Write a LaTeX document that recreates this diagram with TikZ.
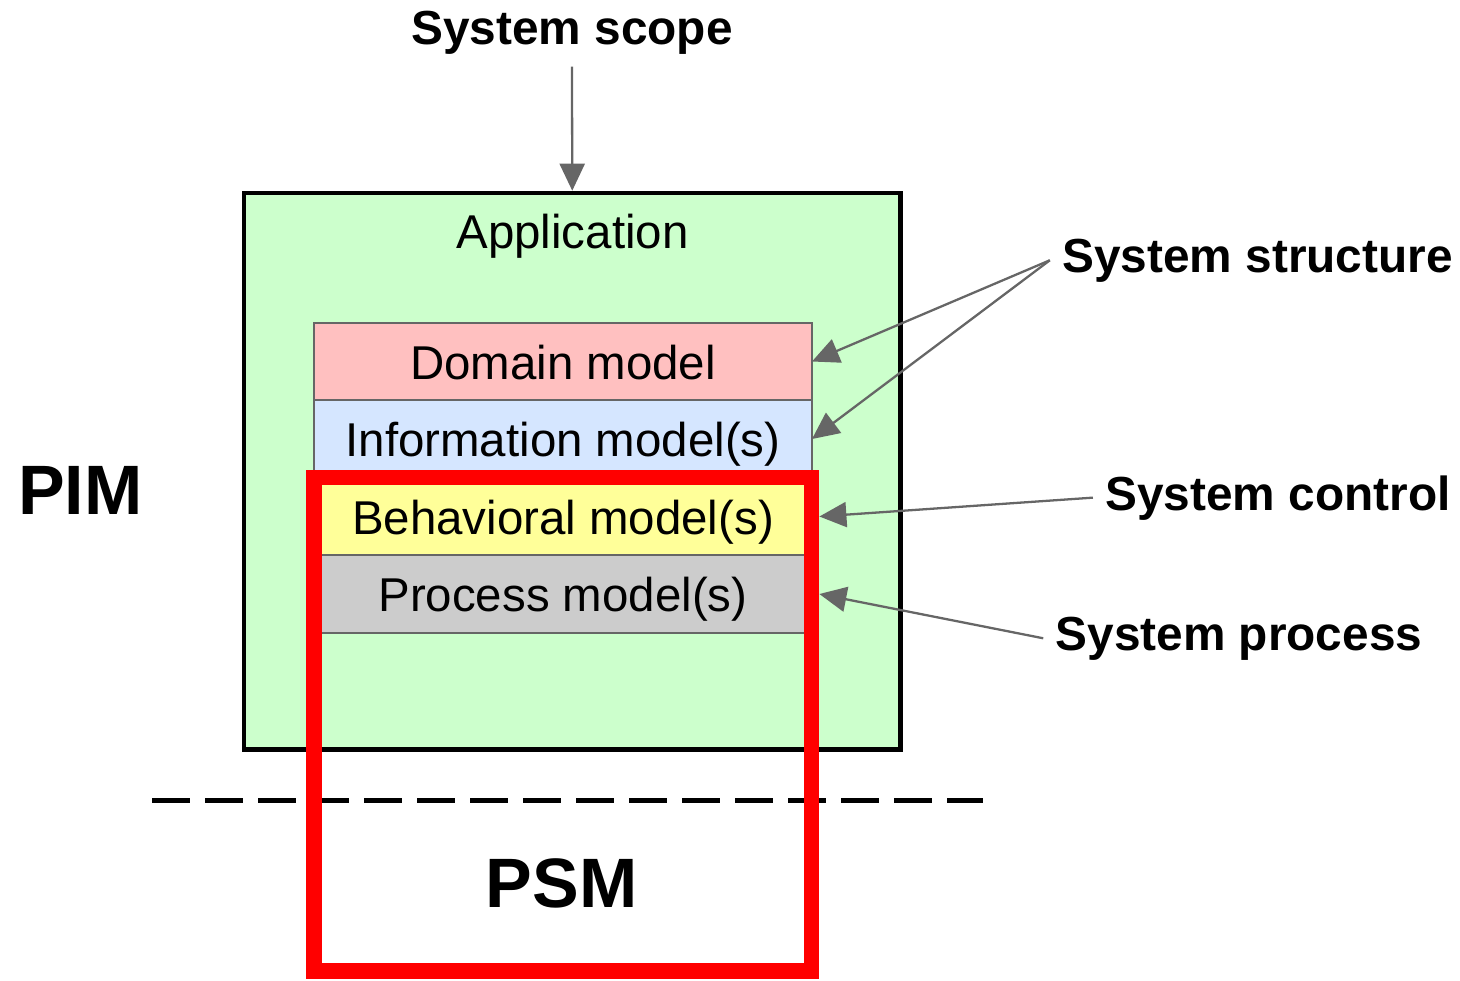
\documentclass[tikz,border=0pt]{standalone}
\usepackage{fontspec}
\setmainfont{Liberation Sans}
\usetikzlibrary{arrows.meta,positioning}

\definecolor{appgreen}{HTML}{CCFFCC}
\definecolor{domainpink}{HTML}{FFC0C0}
\definecolor{infoblue}{HTML}{D5E6FF}
\definecolor{behavyellow}{HTML}{FFFF99}
\definecolor{procgray}{HTML}{CCCCCC}
\definecolor{pointergray}{HTML}{666666}

\begin{document}
\begin{tikzpicture}[every node/.style={font=\fontsize{13.5}{16}\selectfont}, >={Triangle[length=2.7mm, width=2.5mm]},
	modelbox/.style={draw=pointergray, line width=0.6pt, minimum width=4.98cm, minimum height=0.775cm, inner sep=0pt, outer sep=0pt, text height=0.35cm, text depth=0cm},
	tag/.style={font=\fontsize{13.6}{16}\selectfont\bfseries, anchor=base},
	bigtag/.style={font=\fontsize{19.9}{24}\selectfont\bfseries, anchor=base},
	pointer/.style={->, pointergray, line width=0.65pt}]
	\useasboundingbox (0,0) rectangle (14.6,9.8);
	\node[draw=black, line width=1.3pt, fill=appgreen, minimum width=6.565cm, minimum height=5.565cm, inner sep=0pt] (app) at (5.7225,5.0875) {};
	\node[anchor=base] (apptitle) at (5.725,7.32) {Application};
	\node[modelbox, fill=domainpink] (domain) at (5.63,6.185) {Domain model};
	\node[modelbox, fill=infoblue, below=0pt of domain] (info) {Information model(s)};
	\node[modelbox, fill=behavyellow, below=0pt of info] (behav) {Behavioral model(s)};
	\node[modelbox, fill=procgray, below=0pt of behav] (proc) {Process model(s)};
	\draw[black, line width=1.4pt, dash pattern=on 3.8mm off 1.5mm] (1.52,1.795) -- (9.83,1.795);
	\node[draw=red, line width=4.5pt, minimum width=4.975cm, minimum height=4.935cm, inner sep=0pt] (psmframe) at (5.6275,2.5575) {};
	\node[bigtag] (pim) at (0.805,4.66) {PIM};
	\node[bigtag] (psm) at (5.615,0.73) {PSM};
	\node[tag] (scope) at (5.72,9.357) {System scope};
	\node[tag] (structure) at (12.575,7.08) {System structure};
	\node[tag] (control) at (12.78,4.70) {System control};
	\node[tag] (process) at (12.39,3.30) {System process};
	\draw[pointer] (scope.south) -- (app.north);
	\draw[pointer] (structure.west) -- (domain.east);
	\draw[pointer] (structure.west) -- (info.east);
	\draw[pointer] (control.west) -- (psmframe.east |- behav.east);
	\draw[pointer] (process.west) -- (psmframe.east |- proc.east);
\end{tikzpicture}
\end{document}
